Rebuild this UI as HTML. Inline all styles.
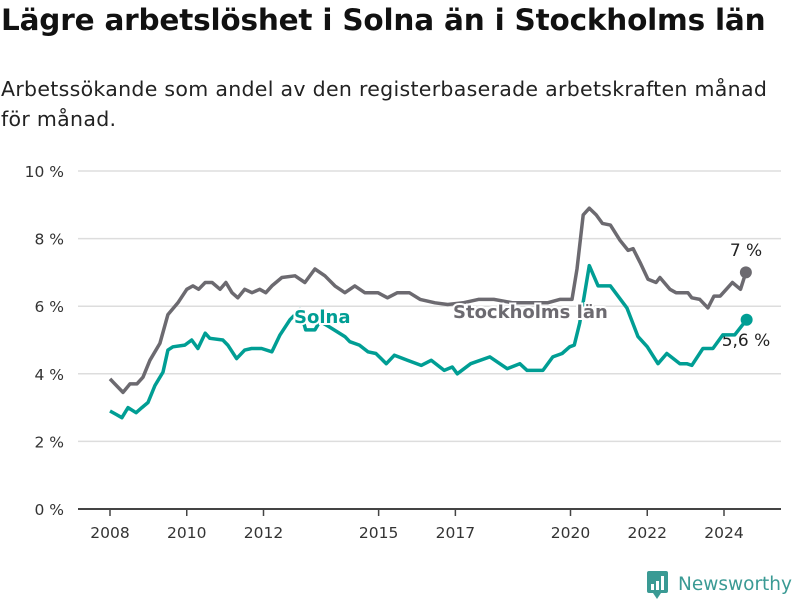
<!DOCTYPE html>
<html><head><meta charset="utf-8">
<style>
body{margin:0;background:#fff;width:800px;height:600px;overflow:hidden;font-family:"DejaVu Sans","Liberation Sans",sans-serif;}
#title{position:absolute;left:1px;top:3px;font-size:29.5px;font-weight:bold;color:#111;letter-spacing:-0.2px;white-space:nowrap;}
#sub{position:absolute;left:1px;top:74px;font-size:20.5px;letter-spacing:0.3px;color:#222;line-height:30px;width:799px;white-space:nowrap;}
svg{position:absolute;left:0;top:0;}
</style></head><body>
<div id="title">Lägre arbetslöshet i Solna än i Stockholms län</div>
<div id="sub">Arbetssökande som andel av den registerbaserade arbetskraften månad<br>för månad.</div>
<svg id="chart" width="800" height="600"></svg>
<script>
const yTicks=[0,2,4,6,8,10];
const xTicks=[2008,2010,2012,2015,2017,2020,2022,2024];
const stockYears=[2008.0,2008.34,2008.52,2008.7,2008.86,2009.04,2009.3,2009.51,2009.77,2010.0,2010.16,2010.31,2010.48,2010.66,2010.87,2011.02,2011.18,2011.33,2011.51,2011.7,2011.9,2012.06,2012.22,2012.48,2012.82,2013.08,2013.34,2013.6,2013.86,2014.12,2014.38,2014.64,2014.98,2015.23,2015.49,2015.8,2016.08,2016.47,2016.8,2017.2,2017.6,2018.0,2018.5,2019.0,2019.4,2019.72,2020.04,2020.17,2020.33,2020.49,2020.67,2020.83,2021.04,2021.29,2021.5,2021.63,2021.81,2022.02,2022.23,2022.33,2022.59,2022.75,2023.06,2023.16,2023.37,2023.58,2023.74,2023.9,2024.06,2024.22,2024.43,2024.57];
const stockValues=[3.85,3.45,3.7,3.7,3.9,4.4,4.9,5.75,6.1,6.5,6.6,6.5,6.7,6.7,6.5,6.7,6.4,6.25,6.5,6.4,6.5,6.4,6.6,6.85,6.9,6.7,7.1,6.9,6.6,6.4,6.6,6.4,6.4,6.25,6.4,6.4,6.2,6.1,6.05,6.1,6.2,6.2,6.1,6.1,6.1,6.2,6.2,7.1,8.7,8.9,8.7,8.45,8.4,7.95,7.65,7.7,7.3,6.8,6.7,6.85,6.5,6.4,6.4,6.25,6.2,5.95,6.3,6.3,6.5,6.7,6.5,7.0];
const solnaYears=[2008.0,2008.16,2008.31,2008.47,2008.68,2008.83,2008.99,2009.17,2009.38,2009.51,2009.64,2009.95,2010.13,2010.29,2010.48,2010.6,2010.94,2011.07,2011.3,2011.51,2011.69,2011.95,2012.22,2012.43,2012.69,2012.95,2013.1,2013.34,2013.47,2013.7,2014.12,2014.25,2014.5,2014.72,2014.93,2015.2,2015.41,2015.75,2016.11,2016.37,2016.71,2016.92,2017.05,2017.4,2017.9,2018.35,2018.68,2018.87,2019.28,2019.54,2019.78,2019.98,2020.1,2020.24,2020.49,2020.72,2021.04,2021.47,2021.76,2022.0,2022.28,2022.51,2022.85,2023.03,2023.16,2023.45,2023.71,2023.97,2024.28,2024.59];
const solnaValues=[2.9,2.8,2.7,3.0,2.85,3.0,3.15,3.65,4.05,4.7,4.8,4.85,5.0,4.75,5.2,5.05,5.0,4.85,4.45,4.7,4.75,4.75,4.65,5.15,5.6,5.9,5.3,5.3,5.55,5.4,5.1,4.95,4.85,4.65,4.6,4.3,4.55,4.4,4.25,4.4,4.1,4.2,4.0,4.3,4.5,4.15,4.3,4.1,4.1,4.5,4.6,4.8,4.85,5.5,7.2,6.6,6.6,5.95,5.1,4.8,4.3,4.6,4.3,4.3,4.25,4.75,4.75,5.15,5.15,5.6];

const NS="http://www.w3.org/2000/svg";
const svg=document.getElementById('chart');
const X=y=>110+(y-2008)*38.375;
const Y=v=>509-v*33.8;
function mk(t,a,p){const e=document.createElementNS(NS,t);for(const k in a)e.setAttribute(k,a[k]);(p||svg).appendChild(e);return e;}
yTicks.forEach(v=>{
  const g=mk('line',{x1:78,x2:781,y1:Y(v),y2:Y(v),stroke:v===0?'#444':'#ddd','stroke-width':v===0?2:1.5});
  
  
  const t=mk('text',{x:64,y:Y(v)+6,'text-anchor':'end','font-size':15.5,fill:'#333'});
  t.textContent=v+' %';
  
  
});
xTicks.forEach(yr=>{
  const l=mk('line',{x1:X(yr),x2:X(yr),y1:509,y2:516,stroke:'#444','stroke-width':1.5});
  
  
  const t=mk('text',{x:X(yr),y:538,'text-anchor':'middle','font-size':15.5,fill:'#333'});
  t.textContent=yr;
  
  
});
function label(x,y,txt,color,bold,size,name,anchor,halo){
  const t=mk('text',{x:x,y:y,'font-size':size,'font-weight':bold?'bold':'normal',fill:color,stroke:'#fff','stroke-width':halo,'paint-order':'stroke','text-anchor':anchor||'start'});
  t.textContent=txt;
  
  
}
label(746,256,'7 %','#222',false,17,'stockholm-value-label','middle',3);
label(746,346,'5,6 %','#222',false,17,'solna-value-label','middle',3);
function line(ys,vs,color,name){
  const d=ys.map((y,i)=>(i?'L':'M')+X(y).toFixed(1)+' '+Y(vs[i]).toFixed(1)).join(' ');
  const p=mk('path',{d:d,fill:'none',stroke:color,'stroke-width':3.5,'stroke-linejoin':'round'});
  
  
  const n=ys.length-1;
  const c=mk('circle',{cx:X(ys[n]),cy:Y(vs[n]),r:6,fill:color});
  
  
}
line(stockYears,stockValues,'#6c6a70','stockholm-line');
line(solnaYears,solnaValues,'#009e94','solna-line');
label(294,323,'Solna','#009e94',true,18,'solna-label','start',4);
label(453,318,'Stockholms län','#6c6a70',true,18,'stockholm-label','start',4);
// logo
const lg=mk('g',{});


mk('rect',{x:647,y:571,width:21,height:22,rx:2,fill:'#3a9a94'},lg);
mk('path',{d:'M653 593 L657 599 L661 593 Z',fill:'#3a9a94'},lg);
mk('rect',{x:651,y:584,width:3,height:6,fill:'#fff'},lg);
mk('rect',{x:656,y:581,width:3,height:9,fill:'#fff'},lg);
mk('rect',{x:661,y:576,width:3,height:14,fill:'#fff'},lg);
const lt=mk('text',{x:678,y:590,'font-size':18.5,fill:'#3a9a94'},lg);
lt.textContent='Newsworthy';
</script>
</body></html>
